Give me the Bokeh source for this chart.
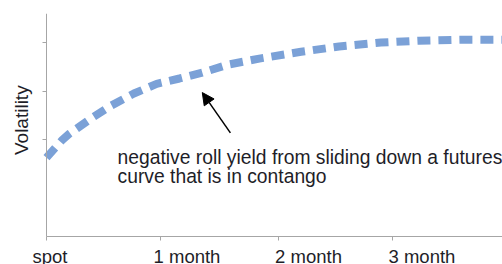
from bokeh.plotting import figure
from bokeh.models import Range1d, Arrow, NormalHead, FixedTicker, ColumnDataSource
from bokeh.core.properties import value
from bokeh.embed import file_html
from bokeh.resources import INLINE

# Data (x in days from spot, y volatility in arbitrary units)
days = [0, 4, 6, 12, 17, 23, 29, 35, 41, 48, 56, 67, 77, 88, 98, 109, 120]
vol = [1.63, 1.98, 2.12, 2.45, 2.70, 2.95, 3.15, 3.26, 3.38, 3.55, 3.67, 3.81, 3.92, 4.00, 4.04, 4.06, 4.06]

tick_days = [0, 30, 61, 91]
tick_labels = ["spot", "1 month", "2 month", "3 month"]
# where each tick label's centre sits (the labels are not centred on their ticks)
tick_label_centers = [0.92, 36.97, 68.95, 98.8]
tick_label_y = [-0.416] * 4
y_ticks = [2, 3, 4]
x_end = 120
y_top = 4.6

y_label = ["Volatility"]
y_label_x = [-6.7]
y_label_y = [2.40]

note_lines = ["negative roll yield from sliding down a futures", "curve that is in contango"]
note_x = [18.7, 18.7]
note_y = [1.64, 1.23]

arrow_start = (48.4, 2.14)
arrow_end = (41.0, 2.97)

FONT = "Liberation Sans"
TEXT_COLOR = "#1e1e28"
AXIS_COLOR = "#a6a6a6"

p = figure(width=502, height=264, output_backend="svg", toolbar_location=None,
           x_range=Range1d(-12.1, x_end), y_range=Range1d(-0.575, y_top),
           x_axis_location="above", y_axis_location="right",
           min_border_left=0, min_border_right=0, min_border_top=13, min_border_bottom=0)
p.outline_line_color = None
p.xgrid.visible = False
p.ygrid.visible = False
p.background_fill_color = "white"
p.border_fill_color = "white"

p.line(days, vol, line_color="#7ba1d7", line_width=8, line_dash="13 8", line_cap="butt")

# x axis drawn at volatility 0, tick marks pointing down
p.xaxis.fixed_location = 0
p.xaxis.bounds = (0, x_end)
p.xaxis.ticker = FixedTicker(ticks=tick_days)
p.xaxis.major_label_overrides = {t: "" for t in tick_days}
p.xaxis.major_label_text_font_size = "0px"
p.xaxis.major_label_standoff = 0
p.xaxis.minor_tick_line_color = None
p.xaxis.major_tick_out = 0
p.xaxis.major_tick_in = 4
p.xaxis.axis_line_color = AXIS_COLOR
p.xaxis.major_tick_line_color = AXIS_COLOR

# y axis drawn at spot, tick marks pointing left
p.yaxis.fixed_location = 0
p.yaxis.bounds = (0, y_top)
p.yaxis.ticker = FixedTicker(ticks=y_ticks)
p.yaxis.major_label_overrides = {t: "" for t in y_ticks}
p.yaxis.major_label_text_font_size = "0px"
p.yaxis.major_label_standoff = 0
p.yaxis.minor_tick_line_color = None
p.yaxis.major_tick_out = 0
p.yaxis.major_tick_in = 4
p.yaxis.axis_line_color = AXIS_COLOR
p.yaxis.major_tick_line_color = AXIS_COLOR

# tick labels of the x axis
lab_src = ColumnDataSource(dict(x=tick_label_centers, y=tick_label_y, t=tick_labels))
p.text(x="x", y="y", text="t", source=lab_src, text_font=value(FONT), text_font_size="18.5px",
       text_color=TEXT_COLOR, text_baseline="alphabetic", text_align="center")

# y axis title
ylab_src = ColumnDataSource(dict(x=y_label_x, y=y_label_y, t=y_label))
p.text(x="x", y="y", text="t", source=ylab_src, angle=90, angle_units="deg",
       text_font=value(FONT), text_font_size="19px", text_color=TEXT_COLOR,
       text_baseline="alphabetic", text_align="center")

src = ColumnDataSource(dict(x=note_x, y=note_y, t=note_lines))
p.text(x="x", y="y", text="t", source=src, text_font=value(FONT), text_font_size="19.3px",
       text_color=TEXT_COLOR, text_baseline="alphabetic", text_align="left")

p.add_layout(Arrow(end=NormalHead(size=12, fill_color="black", line_color="black"),
                   x_start=arrow_start[0], y_start=arrow_start[1],
                   x_end=arrow_end[0], y_end=arrow_end[1],
                   line_color="black", line_width=1.5))

open("out.html", "w").write(file_html(p, INLINE))
